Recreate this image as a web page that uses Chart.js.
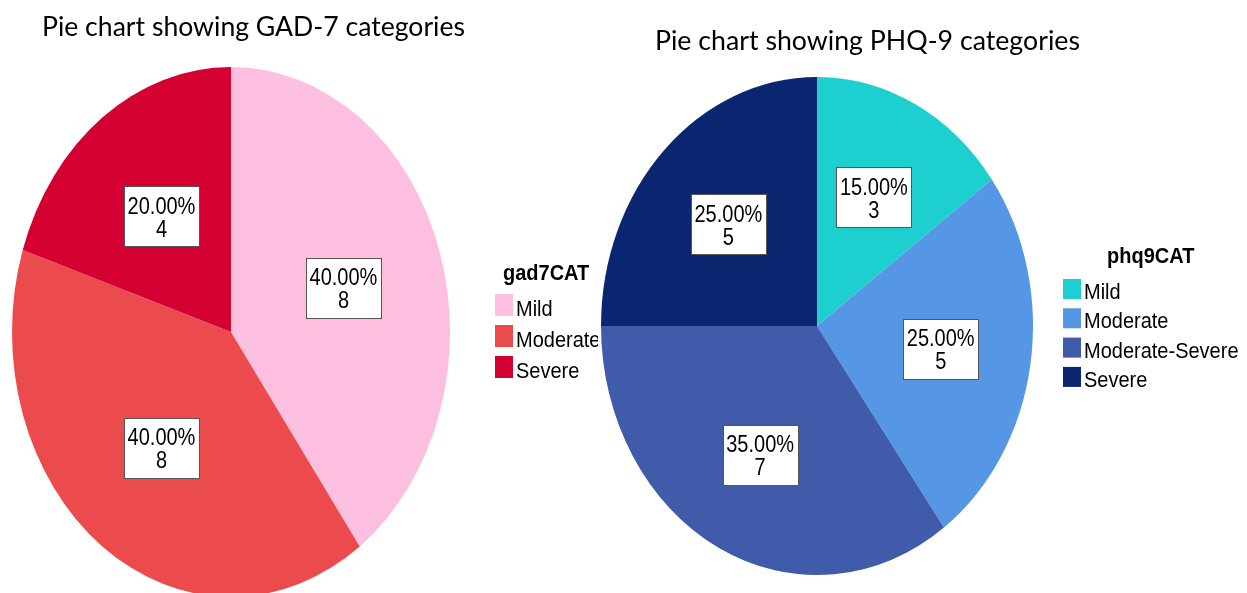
<!DOCTYPE html>
<html>
<head>
<meta charset="utf-8">
<script src="https://cdn.jsdelivr.net/npm/chart.js@4.4.0/dist/chart.umd.min.js"></script>
<style>
    html, body { margin: 0; padding: 0; background: #fff; overflow: hidden; }
    #wrap { position: relative; width: 1247px; height: 593px; }
    #gadChart { position: absolute; left: 0; top: 0; }
    #phqChart { position: absolute; left: 598px; top: 0; }
</style>
</head>
<body>
<div id="wrap">
    <canvas id="gadChart" width="598" height="593"></canvas>
    <canvas id="phqChart" width="649" height="593"></canvas>
</div>
<script>
// GAD-7 data
const gadTitle = 'Pie chart showing GAD-7 categories';
const gadLegendTitle = 'gad7CAT';
const gadLabels = ['Mild', 'Moderate', 'Severe'];
const gadCounts = [8, 8, 4];
const gadColors = ['#FDBFDF', '#EC4B4D', '#D50032'];

// PHQ-9 data
const phqTitle = 'Pie chart showing PHQ-9 categories';
const phqLegendTitle = 'phq9CAT';
const phqLabels = ['Mild', 'Moderate', 'Moderate-Severe', 'Severe'];
const phqCounts = [3, 5, 7, 5];
const phqColors = ['#1DCFCF', '#5597E4', '#3F5BA9', '#0B2670'];

const LABEL_FONT = '20px "Liberation Sans", Arial, sans-serif';

/**
 * Stretches the pie vertically (SPSS output is an ellipse),
 * then draws the boxed value labels, legend and title.
 */
const spssPie = {
    id: 'spssPie',
    beforeDatasetsDraw(chart, args, o) {
        const arc = chart.getDatasetMeta(0).data[0];
        const ctx = chart.ctx;
        ctx.save();
        ctx.translate(arc.x, arc.y);
        ctx.scale(1, o.stretch);
        ctx.translate(-arc.x, -arc.y);
    },
    afterDatasetsDraw(chart, args, o) {
        const ctx = chart.ctx;
        ctx.restore();

        const ds = chart.data.datasets[0];
        const total = ds.data.reduce((a, b) => a + b, 0);
        ctx.save();
        ctx.font = LABEL_FONT;
        chart.getDatasetMeta(0).data.forEach((arc, i) => {
            const p = arc.getProps(['x', 'y', 'startAngle', 'endAngle', 'outerRadius'], true);
            const mid = (p.startAngle + p.endAngle) / 2;
            const cx = p.x + Math.cos(mid) * p.outerRadius * o.labelPos;
            const cy = p.y + Math.sin(mid) * p.outerRadius * o.labelPos * o.stretch;
            const pct = (ds.data[i] / total * 100).toFixed(2) + '%';
            const cnt = String(ds.data[i]);
            const w = Math.round(Math.max(ctx.measureText(pct).width, ctx.measureText(cnt).width) + 7);
            const h = 60;
            const bx = Math.round(cx - w / 2) + 0.5;
            const by = Math.round(cy - h / 2) + 0.5;
            ctx.fillStyle = '#fff';
            ctx.fillRect(bx, by, w, h);
            ctx.strokeStyle = '#555';
            ctx.lineWidth = 1;
            ctx.strokeRect(bx, by, w, h);

            ctx.save();
            ctx.translate(cx, cy);
            ctx.scale(1, 1.15);
            ctx.fillStyle = '#000';
            ctx.textAlign = 'center';
            ctx.textBaseline = 'alphabetic';
            ctx.fillText(pct, 0, -2);
            ctx.fillText(cnt, 0, 18);
            ctx.restore();
        });
        ctx.restore();
    },
    afterDraw(chart, args, o) {
        const ctx = chart.ctx;
        const labels = chart.data.labels;
        const colors = chart.data.datasets[0].backgroundColor;

        // legend
        ctx.save();
        ctx.fillStyle = '#000';
        ctx.textAlign = 'left';
        ctx.textBaseline = 'alphabetic';
        ctx.font = 'bold 20px "Liberation Sans", Arial, sans-serif';
        ctx.save();
        ctx.translate(o.legend.titleX, o.legend.titleY);
        ctx.scale(1, 1.08);
        ctx.fillText(o.legend.title, 0, 0);
        ctx.restore();

        ctx.font = LABEL_FONT;
        labels.forEach((lab, i) => {
            const base = o.legend.y + i * o.legend.step;
            ctx.fillStyle = colors[i];
            ctx.fillRect(o.legend.x, base - o.legend.box, 18, o.legend.box);
            ctx.fillStyle = '#000';
            ctx.save();
            ctx.translate(o.legend.x + 21, base);
            ctx.scale(1, 1.08);
            ctx.fillText(lab, 0, 0);
            ctx.restore();
        });
        ctx.restore();

        // title
        ctx.save();
        ctx.fillStyle = '#000';
        ctx.font = '24px Lato, "Open Sans", sans-serif';
        ctx.textAlign = 'center';
        ctx.textBaseline = 'alphabetic';
        const tw = ctx.measureText(o.title.text).width;
        ctx.translate(o.title.x, o.title.y);
        ctx.scale(o.title.width / tw, 1.1);
        ctx.fillText(o.title.text, 0, 0);
        ctx.restore();
    }
};

function makePie(id, labels, counts, colors, padding, pluginOpts) {
    const ctx = document.getElementById(id);
    return new Chart(ctx, {
        type: 'pie',
        data: {
            labels: labels,
            datasets: [{
                data: counts,
                backgroundColor: colors,
                borderWidth: 0,
                hoverOffset: 0,
                offset: 0
            }]
        },
        options: {
            responsive: false,
            animation: false,
            devicePixelRatio: 1,
            layout: { padding: padding },
            events: [],
            plugins: {
                legend: { display: false },
                title: { display: false },
                tooltip: { enabled: false },
                spssPie: pluginOpts
            }
        },
        plugins: [spssPie]
    });
}

makePie('gadChart', gadLabels, gadCounts, gadColors,
    { left: 12, right: 148, top: 113, bottom: 42 },
    {
        stretch: 1.21,
        labelPos: 0.54,
        title: { text: gadTitle, x: 253.5, y: 36, width: 423 },
        legend: { title: gadLegendTitle, titleX: 503, titleY: 280, x: 495, y: 316, step: 31, box: 22 }
    });

makePie('phqChart', phqLabels, phqCounts, phqColors,
    { left: 3, right: 214, top: 110, bottom: 51 },
    {
        stretch: 1.153,
        labelPos: 0.58,
        title: { text: phqTitle, x: 269.5, y: 50, width: 425 },
        legend: { title: phqLegendTitle, titleX: 509, titleY: 263, x: 465, y: 299, step: 29.3, box: 20 }
    });
</script>
</body>
</html>
